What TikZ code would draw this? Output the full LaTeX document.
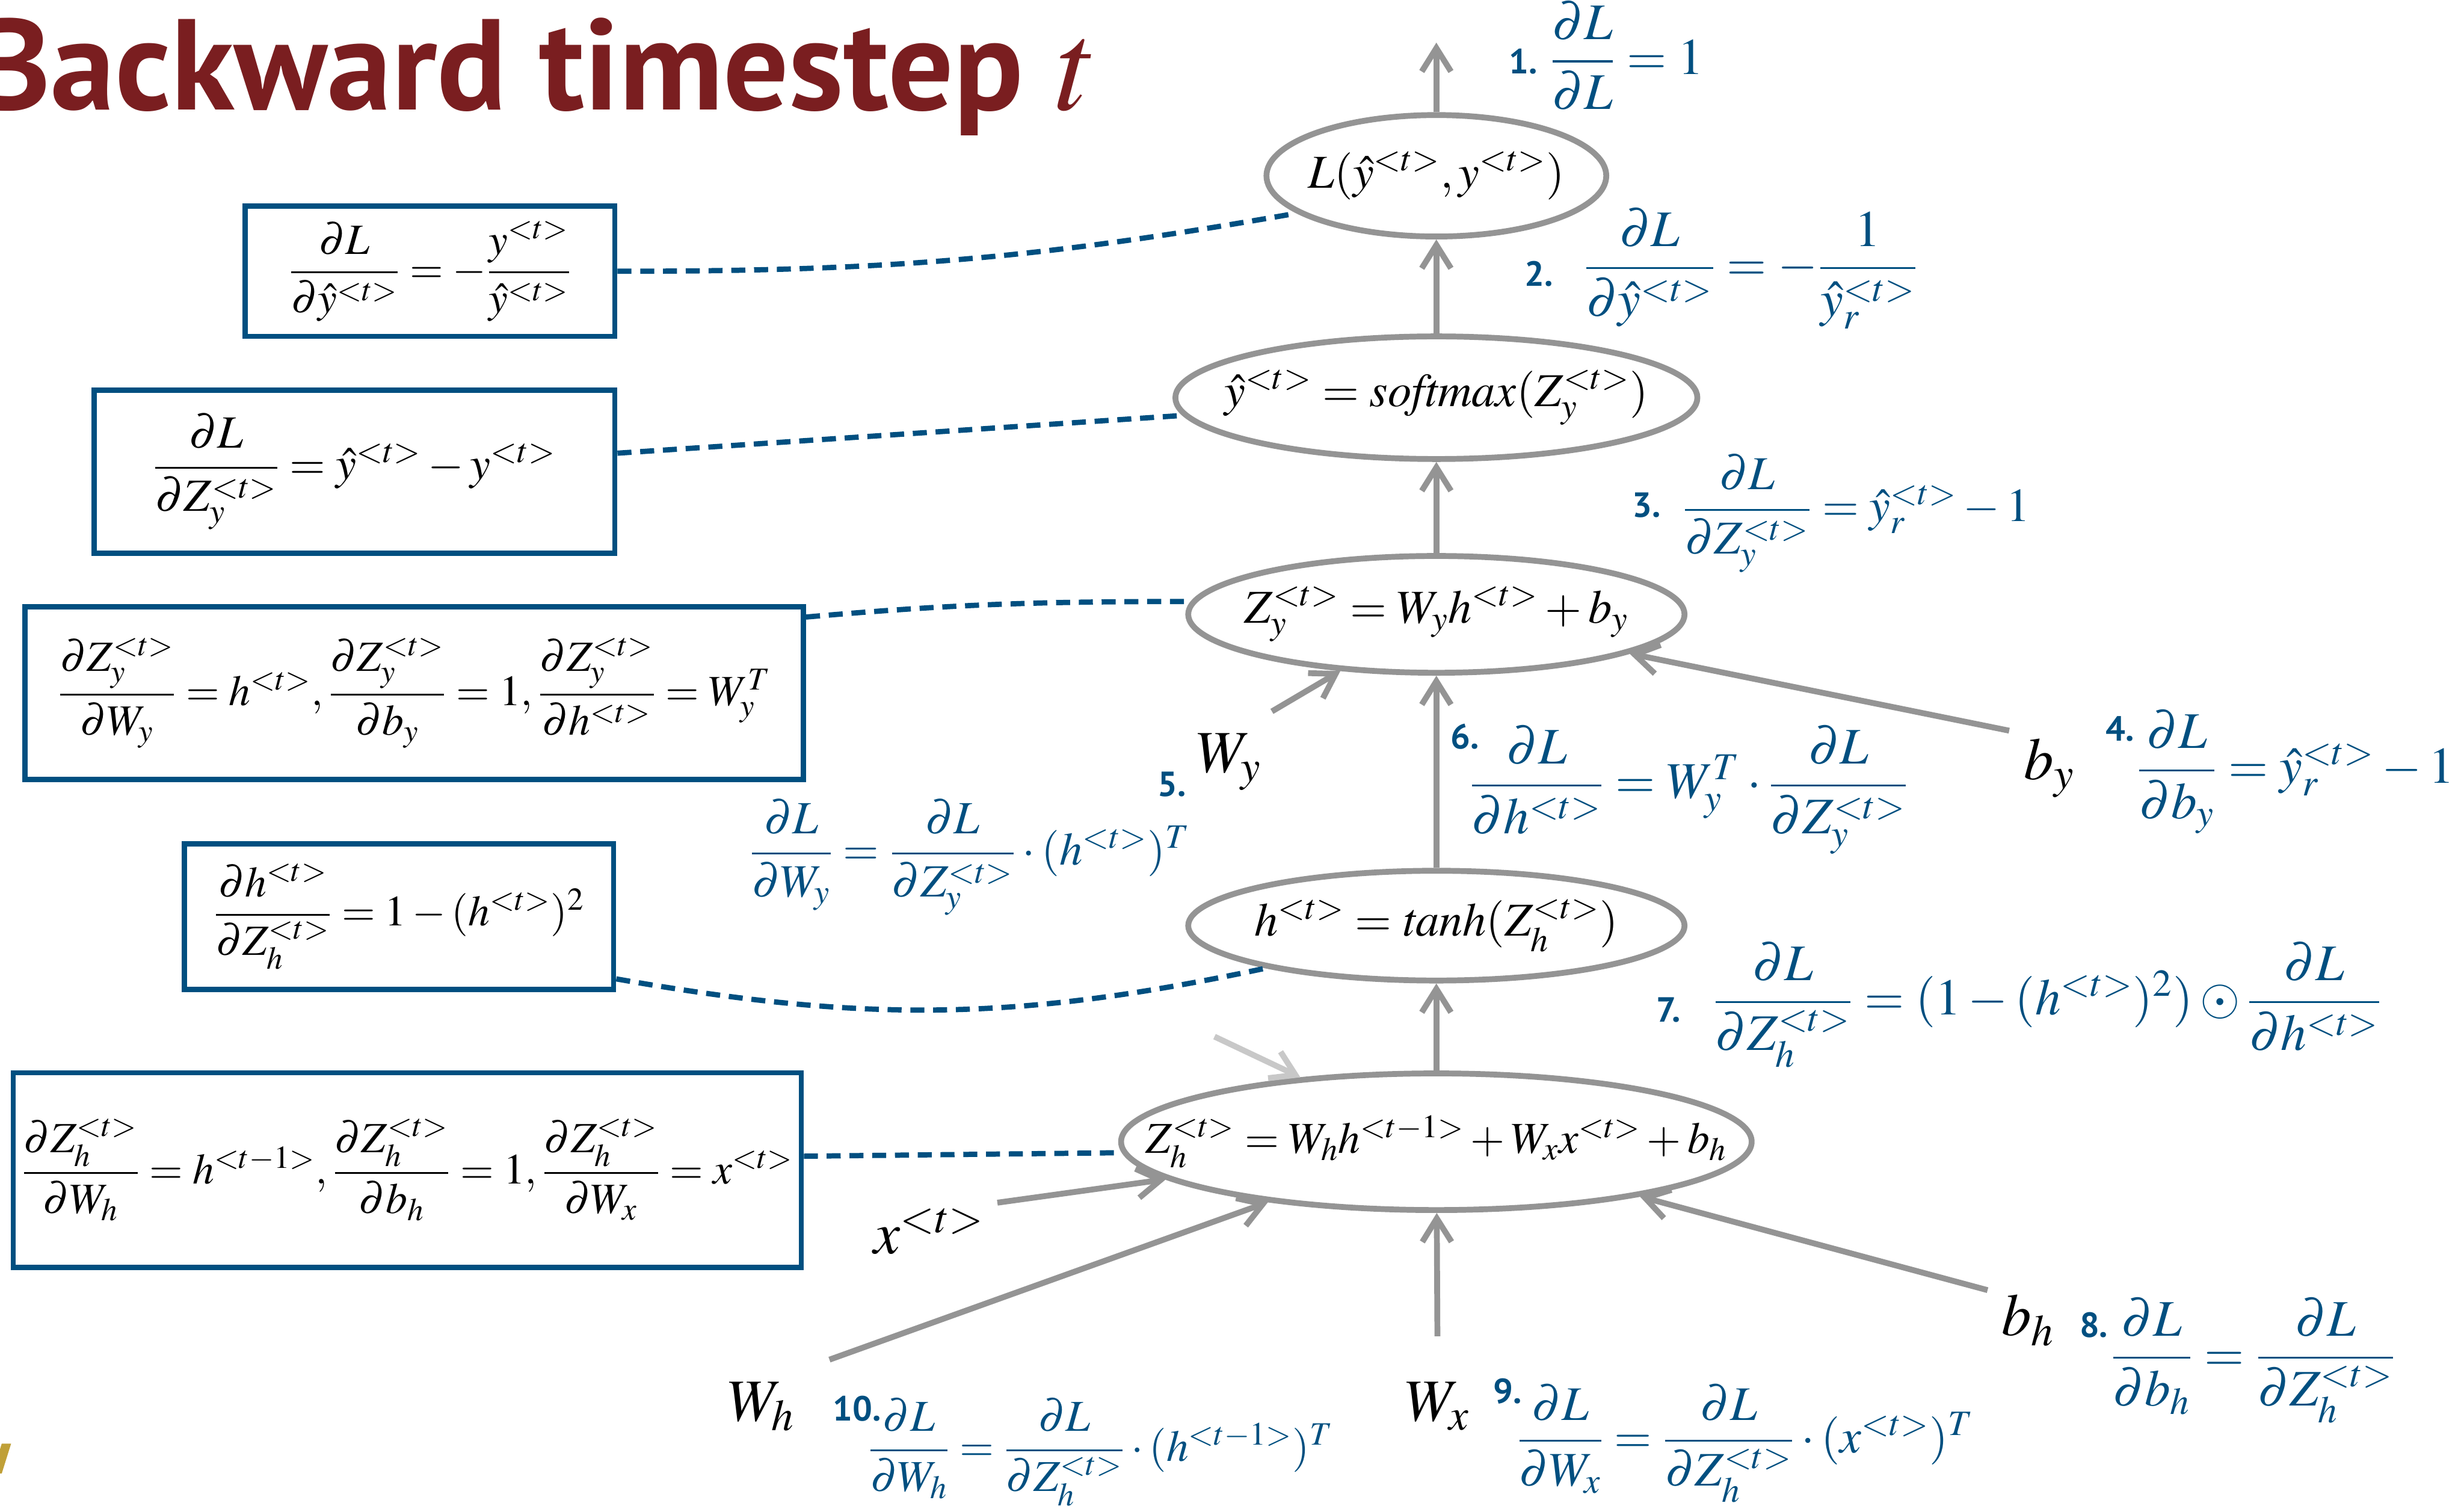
\documentclass[tikz,border=0pt]{standalone}
\usepackage{amsmath,amssymb}
\usepackage{mathptmx}
\usepackage[no-math]{fontspec}
\usepackage{tikz}
\usetikzlibrary{shapes.geometric,arrows.meta,positioning}
\newfontfamily\headfont{PT Sans}

\definecolor{gradblue}{RGB}{0,79,128}
\definecolor{titlered}{RGB}{122,30,32}
\definecolor{edgegray}{RGB}{148,148,148}
\definecolor{fadegray}{RGB}{200,200,200}
\definecolor{logogold}{RGB}{192,160,56}

\begin{document}
\begin{tikzpicture}[
        every node/.style={inner sep=0pt},
        every label/.style={font=\fontsize{23}{28}\selectfont},
        op/.style={ellipse, draw=edgegray, line width=0.1cm, fill=white},
        eqbox/.style={rectangle, draw=gradblue, line width=0.09cm, inner sep=4pt,
            font=\fontsize{21}{26}\selectfont},
        grad/.style={anchor=base west, text=gradblue, font=\fontsize{25}{30}\selectfont},
        num/.style={anchor=base west, text=gradblue, font=\headfont\bfseries\fontsize{17}{20}\selectfont},
        var/.style={anchor=base west, font=\fontsize{29}{34}\selectfont},
        flow/.style={draw=edgegray, line width=0.1cm, -{Straight Barb[length=4mm,width=5mm]}},
        link/.style={draw=gradblue, line width=0.09cm, dash pattern=on 0.24cm off 0.15cm}
    ]
        \useasboundingbox (0,0) rectangle (42.2,-25.78);

        % title
        \node[anchor=base east, text=titlered, font=\headfont\bfseries\fontsize{63}{70}\selectfont]
            (head) at (18.81,-1.88) {Backward timestep $t$};
        \fill[logogold] (0.03,-24.72) -- (0.19,-24.72) -- (0.03,-25.23) -- (-0.13,-25.23) -- cycle;

        % forward graph
        \node[op, minimum width=5.82cm, minimum height=2.08cm,
            label={center:$L(\hat{y}^{<t>}, y^{<t>})$}] (loss) at (24.6,-3.01) {};
        \node[op, minimum width=8.94cm, minimum height=2.10cm,
            label={center:$\hat{y}^{<t>} = \mathit{softmax}(Z_y^{<t>})$}] (soft) at (24.6,-6.81) {};
        \node[op, minimum width=8.5cm, minimum height=2.0cm,
            label={center:$Z_y^{<t>} = W_y h^{<t>} + b_y$}] (zy) at (24.6,-10.52) {};
        \node[op, minimum width=8.5cm, minimum height=1.88cm,
            label={center:$h^{<t>} = \mathit{tanh}(Z_h^{<t>})$}] (tanh) at (24.6,-15.85) {};
        \node[op, minimum width=10.8cm, minimum height=2.34cm,
            label={[font=\fontsize{21.5}{26}\selectfont]center:$Z_h^{<t>} = W_h h^{<t-1>} + W_x x^{<t>} + b_h$}] (zh) at (24.6,-19.55) {};

        \coordinate (top) at (24.6,-0.73);
        \coordinate (hprev) at (20.8,-17.75);

        % inputs
        \node[var] (wy) at (20.49,-13.22) {$W_y$};
        \node[var] (by) at (34.66,-13.35) {$b_y$};
        \node[var] (xt) at (14.96,-21.47) {$x^{<t>}$};
        \node[var] (wh) at (12.46,-24.33) {$W_h$};
        \node[var] (wx) at (24.06,-24.33) {$W_x$};
        \node[var] (bh) at (34.27,-22.87) {$b_h$};

        \draw[flow] (loss) -- (top);
        \draw[flow] (soft) -- (loss);
        \draw[flow] (zy) -- (soft);
        \draw[flow] (tanh) -- (zy);
        \draw[flow] (zh) -- (tanh);
        \draw[flow] ([shift={(0.18,0.37)}]wy.north east) -- (zy);
        \draw[flow] ([shift={(-0.25,0.13)}]by.north west) -- (zy);
        \draw[flow] ([shift={(0.22,0.09)}]xt.north east) -- (zh);
        \draw[flow] ([shift={(0.59,0.38)}]wh.north east) -- (zh);
        \draw[flow] ([yshift=0.78cm]wx.north) -- (zh);
        \draw[flow] ([shift={(-0.23,0.07)}]bh.north west) -- (zh);
        \draw[flow, draw=fadegray] (hprev) -- (zh);

        % local derivatives
        \node[eqbox, minimum width=6.33cm, minimum height=2.23cm] (b1) at (7.365,-4.645)
            {$\dfrac{\partial L}{\partial \hat{y}^{<t>}} = -\dfrac{y^{<t>}}{\hat{y}^{<t>}}$};
        \node[eqbox, minimum width=8.92cm, minimum height=2.79cm, font=\fontsize{22.5}{27}\selectfont] (b2) at (6.07,-8.075)
            {$\dfrac{\partial L}{\partial Z_y^{<t>}} = \hat{y}^{<t>} - y^{<t>}$};
        \node[eqbox, minimum width=13.33cm, minimum height=2.96cm] (b3) at (7.095,-11.87)
            {$\dfrac{\partial Z_y^{<t>}}{\partial W_y} = h^{<t>}, \dfrac{\partial Z_y^{<t>}}{\partial b_y} = 1, \dfrac{\partial Z_y^{<t>}}{\partial h^{<t>}} = W_y^T$};
        \node[eqbox, minimum width=7.35cm, minimum height=2.49cm] (b4) at (6.835,-15.695)
            {$\dfrac{\partial h^{<t>}}{\partial Z_h^{<t>}} = 1 - (h^{<t>})^2$};
        \node[eqbox, minimum width=13.33cm, minimum height=3.33cm] (b5) at (6.975,-20.035)
            {$\dfrac{\partial Z_h^{<t>}}{\partial W_h} = h^{<t-1>}, \dfrac{\partial Z_h^{<t>}}{\partial b_h} = 1, \dfrac{\partial Z_h^{<t>}}{\partial W_x} = x^{<t>}$};

        \draw[link] (b1.east) to[out=0, in=190] (loss.195);
        \draw[link] (b2.4) -- (soft.184);
        \draw[link] (b3.11) to[out=5, in=180] (zy.177);
        \draw[link] (b4.-16) to[out=-10, in=192] (tanh.194);
        \draw[link] (b5.2) -- (zh.182);

        % backward steps
        \node[num] (n1) at (25.84,-1.26) {1.};
        \node[grad] (f1) at (26.54,-1.27) {$\dfrac{\partial L}{\partial L} = 1$};
        \node[num] (n2) at (26.11,-4.90) {2.};
        \node[grad] (f2) at (27.12,-4.81) {$\dfrac{\partial L}{\partial \hat{y}^{<t>}} = -\dfrac{1}{\hat{y}_r^{<t>}}$};
        \node[num] (n3) at (27.95,-8.86) {3.};
        \node[grad, font=\fontsize{23}{28}\selectfont] (f3) at (28.81,-8.93)
            {$\dfrac{\partial L}{\partial Z_y^{<t>}} = \hat{y}_r^{<t>} - 1$};
        \node[num] (n4) at (36.06,-12.69) {4.};
        \node[grad] (f4) at (36.59,-13.41) {$\dfrac{\partial L}{\partial b_y} = \hat{y}_r^{<t>} - 1$};
        \node[num] (n5) at (19.82,-13.64) {5.};
        \node[grad, font=\fontsize{22.5}{27}\selectfont] (f5) at (12.83,-14.81)
            {$\dfrac{\partial L}{\partial W_y} = \dfrac{\partial L}{\partial Z_y^{<t>}} \cdot (h^{<t>})^T$};
        \node[num] (n6) at (24.84,-12.82) {6.};
        \node[grad] (f6) at (25.16,-13.67) {$\dfrac{\partial L}{\partial h^{<t>}} = W_y^T \cdot \dfrac{\partial L}{\partial Z_y^{<t>}}$};
        \node[num] (n7) at (28.36,-17.50) {7.};
        \node[grad] (f7) at (29.33,-17.38) {$\dfrac{\partial L}{\partial Z_h^{<t>}} = (1 - (h^{<t>})^2) \odot \dfrac{\partial L}{\partial h^{<t>}}$};
        \node[num] (n8) at (35.61,-22.90) {8.};
        \node[grad] (f8) at (36.14,-23.47) {$\dfrac{\partial L}{\partial b_h} = \dfrac{\partial L}{\partial Z_h^{<t>}}$};
        \node[num] (n9) at (25.57,-24.03) {9.};
        \node[grad, font=\fontsize{23.5}{28}\selectfont] (f9) at (25.97,-24.88)
            {$\dfrac{\partial L}{\partial W_x} = \dfrac{\partial L}{\partial Z_h^{<t>}} \cdot (x^{<t>})^T$};
        \node[num] (n10) at (14.26,-24.33) {10.};
        \node[grad, font=\fontsize{21.5}{26}\selectfont] (f10) at (14.86,-25.02)
            {$\dfrac{\partial L}{\partial W_h} = \dfrac{\partial L}{\partial Z_h^{<t>}} \cdot (h^{<t-1>})^T$};
    \end{tikzpicture}
\end{document}
